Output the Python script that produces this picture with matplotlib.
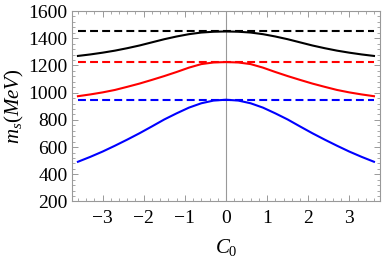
import numpy as np
import matplotlib.pyplot as plt
from matplotlib.ticker import MultipleLocator

plt.rcParams['font.family'] = ['Liberation Serif', 'DejaVu Serif']
plt.rcParams['mathtext.fontset'] = 'custom'
plt.rcParams['mathtext.rm'] = 'Liberation Serif'
plt.rcParams['mathtext.it'] = 'Liberation Serif:italic'

# values, for C0 >= 0 (curves are symmetric in C0)
c0_half = [0.0, 0.3, 0.6, 0.9, 1.2, 1.5, 1.8, 2.1, 2.4, 2.7, 3.0, 3.3, 3.6]
black_half = [1450, 1448, 1442, 1430, 1413, 1393, 1370, 1347, 1327, 1309, 1294, 1281, 1270]
red_half = [1225, 1222, 1210, 1184, 1152, 1122, 1094, 1067, 1043, 1020, 1002, 987, 974]
blue_half = [948, 942, 922, 890, 848, 803, 752, 702, 655, 610, 567, 528, 492]
limits = [1450, 1225, 948]   # dashed horizontal lines
colors = ['black', 'red', 'blue']
xticks = [-3, -2, -1, 0, 1, 2, 3]
xticklabels = ['\u22123', '\u22122', '\u22121', '0', '1', '2', '3']


def mirror(h):
    h = list(h)
    return h[:0:-1] + h


c0 = np.array([-v for v in c0_half[:0:-1]] + c0_half)

fig = plt.figure(figsize=(3.82, 2.57), dpi=100)
ax = fig.add_axes([0.1885, 0.216, 0.806, 0.741])

ax.axvline(0, color='#999999', lw=0.8, zorder=0)

for ys, lim, col in zip([black_half, red_half, blue_half], limits, colors):
    ax.plot(c0, mirror(ys), color=col, lw=1.5)
    ax.plot([c0[0], c0[-1]], [lim, lim], color=col, lw=1.5, dashes=(3.8, 2))

ax.set_xlim(-3.744, 3.744)
ax.set_ylim(200, 1600)
ax.set_xticks(xticks)
ax.set_xticklabels(xticklabels)
ax.xaxis.set_minor_locator(MultipleLocator(0.2))
ax.yaxis.set_major_locator(MultipleLocator(200))
ax.yaxis.set_minor_locator(MultipleLocator(40))

for s in ax.spines.values():
    s.set_color('#999999')
    s.set_linewidth(0.8)

ax.tick_params(which='both', direction='in', top=True, right=True,
               color='#999999', labelsize=14)
ax.tick_params(axis='x', pad=6)
ax.tick_params(axis='y', pad=3)
ax.tick_params(which='major', length=4, width=0.7)
ax.tick_params(which='minor', length=2, width=0.6)

ax.set_xlabel(r'$C_\mathit{0}$', fontsize=15, labelpad=7)
ax.set_ylabel(r'$m_s(MeV)$', fontsize=15, labelpad=2)

fig.savefig('out.png', dpi=100)
